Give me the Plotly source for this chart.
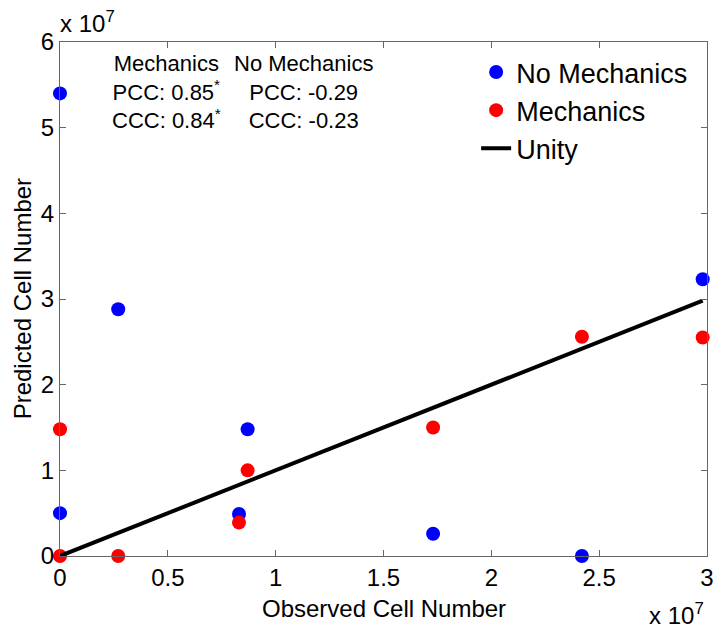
import plotly.graph_objects as go

# observed vs predicted cell numbers
observed = [0, 0, 0.27e7, 0.83e7, 0.87e7, 1.73e7, 2.42e7, 2.98e7]
pred_no_mech = [5.40e7, 0.50e7, 2.88e7, 0.49e7, 1.48e7, 0.26e7, 0.00e7, 3.23e7]
pred_mech = [1.48e7, 0.00e7, 0.00e7, 0.39e7, 1.00e7, 1.50e7, 2.56e7, 2.55e7]
unity = [0, 2.98e7]

x_ticks = [0, 0.5e7, 1e7, 1.5e7, 2e7, 2.5e7, 3e7]
x_ticktext = ['0', '0.5', '1', '1.5', '2', '2.5', '3']
y_ticks = [0, 1e7, 2e7, 3e7, 4e7, 5e7, 6e7]
y_ticktext = ['0', '1', '2', '3', '4', '5', '6']

FONT = 'Arial, Liberation Sans, sans-serif'
# the page body has an 8px margin, so shrink the figure by that much
OFF = 8
W, H = 726 - OFF, 633 - OFF
L, R, T, B = 60 - OFF, 13, 42 - OFF, 77


def px(x, y):
    # window pixel position -> paper coords
    x, y = x - OFF, y - OFF
    return (x - L) / (W - L - R), (H - B - y) / (H - T - B)


fig = go.Figure()
fig.add_trace(go.Scatter(x=observed, y=pred_no_mech, mode='markers', name='No Mechanics',
                         marker=dict(size=14, color='#0000ff'), cliponaxis=False))
fig.add_trace(go.Scatter(x=observed, y=pred_mech, mode='markers', name='Mechanics',
                         marker=dict(size=14, color='#ff0000'), cliponaxis=False))
fig.add_trace(go.Scatter(x=unity, y=unity, mode='lines', name='Unity',
                         line=dict(color='black', width=4), cliponaxis=False))

axis = dict(showgrid=False, zeroline=False, showline=True, mirror='ticks', linecolor='#666666',
            linewidth=1, ticks='inside', ticklen=6, tickcolor='#666666',
            tickfont=dict(family=FONT, size=24, color='black'))
fig.update_xaxes(range=[0, 3e7], tickvals=x_ticks, ticktext=x_ticktext, **axis)
fig.update_yaxes(range=[0, 6e7], tickvals=y_ticks, ticktext=y_ticktext, **axis)

anns = []
# axis titles
anns.append(dict(text='Observed Cell Number', x=0.5, y=px(0, 608)[1], xanchor='center',
                 yanchor='middle', font=dict(size=24)))
anns.append(dict(text='Predicted Cell Number', x=px(22, 0)[0], y=0.5, textangle=-90,
                 xanchor='center', yanchor='middle', font=dict(size=24)))
# exponent labels
anns.append(dict(text='x 10<sup>7</sup>', x=px(58, 0)[0], y=px(0, 22)[1], xanchor='left',
                 yanchor='middle', font=dict(size=24)))
anns.append(dict(text='x 10<sup>7</sup>', x=px(712, 0)[0], y=px(0, 614)[1], xanchor='right',
                 yanchor='middle', font=dict(size=24)))
# correlation stats
anns.append(dict(text='Mechanics<br>PCC: 0.85<sup>*</sup><br>CCC: 0.84<sup>*</sup>',
                 x=px(167, 0)[0], y=px(0, 49)[1], xanchor='center', yanchor='top',
                 font=dict(size=22)))
anns.append(dict(text='No Mechanics<br>PCC: -0.29<br>CCC: -0.23',
                 x=px(306, 0)[0], y=px(0, 49)[1], xanchor='center', yanchor='top',
                 font=dict(size=22)))
for a in anns:
    a.update(xref='paper', yref='paper', showarrow=False)
    a['font'].update(family=FONT, color='black')

lx, ly = px(480, 48)
fig.update_layout(
    width=W, height=H,
    margin=dict(l=L, r=R, t=T, b=B),
    plot_bgcolor='white', paper_bgcolor='white',
    font=dict(family=FONT, color='black'),
    annotations=anns,
    legend=dict(x=lx, y=ly, xanchor='left', yanchor='top', bgcolor='rgba(0,0,0,0)',
                font=dict(family=FONT, size=27, color='black'), tracegroupgap=0),
)

fig.write_html("out.html")
